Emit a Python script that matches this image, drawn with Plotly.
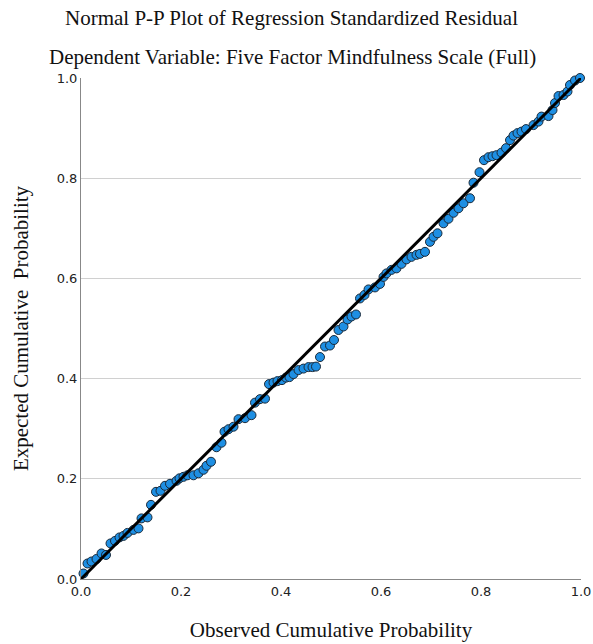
import plotly.graph_objects as go

observed = [0.005,0.013,0.021,0.031,0.041,0.050,0.059,0.068,0.077,0.085,0.093,0.105,0.115,0.121,0.133,0.140,0.150,0.159,0.168,0.178,
            0.191,0.197,0.205,0.213,0.225,0.235,0.245,0.251,0.260,0.271,0.281,0.287,0.295,0.305,0.315,0.328,0.341,0.348,0.358,0.368,
            0.376,0.385,0.393,0.402,0.410,0.417,0.425,0.435,0.445,0.455,0.463,0.470,0.478,0.488,0.498,0.506,0.515,0.525,0.533,0.541,
            0.550,0.558,0.567,0.575,0.588,0.598,0.605,0.611,0.621,0.631,0.641,0.651,0.661,0.671,0.678,0.688,0.698,0.705,0.713,0.725,
            0.735,0.745,0.755,0.765,0.778,0.785,0.797,0.806,0.815,0.823,0.831,0.841,0.850,0.858,0.865,0.873,0.881,0.890,0.905,0.915,
            0.921,0.935,0.943,0.948,0.955,0.965,0.973,0.978,0.988,0.998]
expected = [0.011,0.031,0.035,0.040,0.051,0.048,0.071,0.076,0.083,0.086,0.092,0.098,0.101,0.121,0.123,0.148,0.174,0.176,0.186,0.190,
            0.196,0.201,0.204,0.207,0.207,0.211,0.218,0.226,0.234,0.263,0.272,0.294,0.299,0.304,0.319,0.321,0.327,0.352,0.359,0.360,
            0.389,0.392,0.395,0.397,0.402,0.403,0.409,0.417,0.420,0.423,0.423,0.424,0.443,0.464,0.466,0.477,0.497,0.504,0.518,0.524,
            0.528,0.560,0.567,0.578,0.582,0.589,0.603,0.610,0.617,0.620,0.629,0.638,0.643,0.647,0.649,0.653,0.673,0.683,0.690,0.710,
            0.719,0.731,0.740,0.750,0.760,0.791,0.812,0.836,0.842,0.844,0.846,0.851,0.860,0.876,0.885,0.890,0.893,0.898,0.906,0.913,
            0.923,0.924,0.936,0.950,0.964,0.966,0.973,0.986,0.995,1.000]
ref_line = [0.0, 1.0]
tick_vals = [0.0, 0.2, 0.4, 0.6, 0.8, 1.0]
tick_text = ["0.0", "0.2", "0.4", "0.6", "0.8", "1.0"]

serif = "Liberation Serif, Times New Roman, serif"
sans = "DejaVu Sans, sans-serif"

fig = go.Figure()
fig.add_trace(go.Scatter(x=observed, y=expected, mode="markers",
                         marker=dict(size=9, color="#1e8fe3", line=dict(color="#1a2a3a", width=1)),
                         showlegend=False, cliponaxis=False))
fig.add_trace(go.Scatter(x=ref_line, y=ref_line, mode="lines",
                         line=dict(color="black", width=3), showlegend=False, cliponaxis=False))

fig.update_layout(
    width=593, height=644,
    margin=dict(l=81, r=12, t=78, b=65, autoexpand=False),
    paper_bgcolor="white", plot_bgcolor="white",
    xaxis=dict(range=[0, 1], tickvals=tick_vals, ticktext=tick_text, showgrid=False, automargin=False,
               showline=True, linecolor="#888888", linewidth=1, zeroline=False,
               ticks="", tickfont=dict(family=sans, size=13, color="#222"),
               title=dict(text="Observed Cumulative Probability", font=dict(family=serif, size=21, color="#111"), standoff=24)),
    yaxis=dict(range=[0, 1], tickvals=tick_vals, ticktext=tick_text, showgrid=True, gridcolor="#d0d0d0", automargin=False,
               showline=True, linecolor="#888888", linewidth=1, zeroline=False,
               ticks="", tickfont=dict(family=sans, size=13, color="#222"),
               title=dict(text="Expected Cumulative \u00a0Probability", font=dict(family=serif, size=21, color="#111"), standoff=22)),
    annotations=[
        dict(text="Normal P-P Plot of Regression Standardized Residual", xref="paper", yref="paper",
             x=(291-81)/500, y=(579-18)/501, xanchor="center", yanchor="middle", showarrow=False,
             font=dict(family=serif, size=21, color="#111")),
        dict(text="Dependent Variable: Five Factor Mindfulness Scale (Full)", xref="paper", yref="paper",
             x=(292-81)/500, y=(579-57)/501, xanchor="center", yanchor="middle", showarrow=False,
             font=dict(family=serif, size=21, color="#111")),
    ],
)

fig.write_html("out.html")
